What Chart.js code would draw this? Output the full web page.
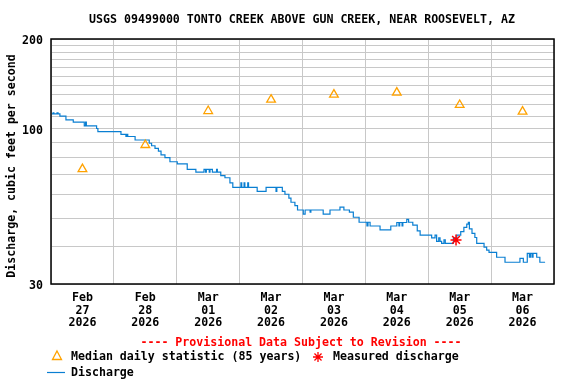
<!DOCTYPE html>
<html>
<head>
<meta charset="utf-8">
<script src="https://cdn.jsdelivr.net/npm/chart.js@4.4.1/dist/chart.umd.min.js"></script>
<style>
  html, body { margin: 0; padding: 0; background: #fff; }
  #wrap { width: 576px; height: 384px; }
</style>
</head>
<body>
<div id="wrap"><canvas id="hydro"></canvas></div>
<script>
// hours since Feb 27 2026 00:00, and discharge (cfs) from that time on
var qHours = [0.3, 0.8, 1.1, 2.3, 2.7, 3.4, 5.7, 8.5, 12.7, 13.2, 13.5, 17.4, 17.9, 26.7, 28.6, 29.0, 29.3, 32.1,
  37.5, 38.4, 39.7, 41.0, 42.0, 43.5, 45.4, 48.2, 52.0, 55.3, 58.4, 59.0, 59.3, 60.4, 60.7, 61.6, 63.2, 63.5,
  64.8, 66.4, 68.3, 69.4, 72.5, 72.8, 73.7, 74.0, 75.1, 75.4, 78.7, 82.1, 85.9, 86.2, 88.3, 89.3, 90.8, 91.6,
  93.1, 94.1, 96.3, 97.0, 98.9, 99.2, 103.9, 106.5, 110.3, 111.8, 113.9, 115.4, 117.6, 120.6, 121.0, 121.8,
  125.6, 129.7, 132.0, 132.8, 133.1, 134.0, 134.3, 135.8, 136.5, 138.1, 139.8, 140.9, 145.3, 146.6, 147.2,
  148.0, 148.5, 149.1, 150.0, 150.5, 153.6, 154.9, 156.4, 157.6, 158.7, 159.3, 159.7, 160.7, 161.8, 162.5,
  165.3, 166.3, 167.2, 170.1, 173.3, 179.0, 180.3, 181.8, 182.6, 183.0, 183.6, 184.0, 185.4, 186.6, 188.6];
var qValues = [112, 113, 112, 113, 112, 110, 107, 105, 102, 105, 102, 100, 97.6, 95.6, 94, 95.6, 94, 91.5,
  89.2, 87.5, 85.8, 84, 81.5, 79.8, 77.3, 76, 72.9, 71.3, 72.9, 71.3, 72.9, 71.3, 72.9, 71.3, 72.9, 71.3,
  69.4, 68.3, 65.6, 63.4, 65.6, 63.4, 65.6, 63.4, 65.6, 63.4, 61.5, 63.4, 61.5, 63.4, 61.5, 60.1, 58.3, 56.5,
  55, 53.2, 51.5, 53.2, 52.3, 53.2, 51.5, 53.2, 54.4, 53.2, 52.3, 50.3, 48.4, 47, 48.4, 47,
  45.6, 47, 48.3, 47, 48.3, 47, 48.3, 49.5, 48.4, 47.3, 45.3, 43.8, 42.9, 43.8, 41.7,
  42.9, 41.7, 41.1, 42.2, 41.1, 42.9, 43.8, 45, 46.5, 47.7, 48.4, 46, 44.4, 43, 41.1,
  39.9, 39, 38.3, 36.9, 35.5, 36.6, 35.5, 38, 36.9, 38, 36.9, 38, 36.9, 35.5, 35.5];

var medianHours = [12, 36, 60, 84, 108, 132, 156, 180];
var medianValues = [73, 88, 114.5, 125, 130, 132, 120, 114];

var measuredHours = [154.6];
var measuredValues = [42.2];

var tickMonths = ['Feb', 'Feb', 'Mar', 'Mar', 'Mar', 'Mar', 'Mar', 'Mar'];
var tickDays = ['27', '28', '01', '02', '03', '04', '05', '06'];
var tickYears = ['2026', '2026', '2026', '2026', '2026', '2026', '2026', '2026'];

var yGrid = [30, 40, 50, 60, 70, 80, 90, 100, 110, 120, 130, 140, 150, 160, 170, 180, 190, 200];
var yLabels = [30, 100, 200];

var FONT = '"DejaVu Sans Mono", monospace';
var BLUE = '#0a7fd2';
var ORANGE = '#ffa200';

function pts(xs, ys) {
  return xs.map(function (x, i) { return { x: x, y: ys[i] }; });
}

var decorations = {
  id: 'decorations',
  afterDatasetsDraw: function (chart) {
    var ctx = chart.ctx, a = chart.chartArea;
    ctx.save();
    ctx.strokeStyle = '#000';
    ctx.lineWidth = 1.5;
    ctx.strokeRect(a.left, a.top, a.right - a.left, a.bottom - a.top);
    ctx.restore();
  },
  afterDraw: function (chart) {
    var ctx = chart.ctx;
    ctx.save();
    ctx.font = 'bold 11.6px ' + FONT;
    ctx.textBaseline = 'middle';
    ctx.fillStyle = '#000';
    ctx.textAlign = 'center';
    ctx.fillText('USGS 09499000 TONTO CREEK ABOVE GUN CREEK, NEAR ROOSEVELT, AZ', 302, 20);

    // y axis title
    ctx.save();
    ctx.translate(12, 166);
    ctx.rotate(-Math.PI / 2);
    ctx.fillText('Discharge, cubic feet per second', 0, 0);
    ctx.restore();

    ctx.fillStyle = '#ff0000';
    ctx.fillText('---- Provisional Data Subject to Revision ----', 301, 343);

    ctx.textAlign = 'left';
    ctx.fillStyle = '#000';
    ctx.fillText('Median daily statistic (85 years)', 71, 357);
    ctx.fillText('Measured discharge', 333, 357);
    ctx.fillText('Discharge', 71, 373);

    // triangle
    ctx.strokeStyle = ORANGE;
    ctx.lineWidth = 1.3;
    ctx.beginPath();
    ctx.moveTo(57, 351);
    ctx.lineTo(61.5, 359.5);
    ctx.lineTo(52.5, 359.5);
    ctx.closePath();
    ctx.stroke();

    // asterisk
    ctx.strokeStyle = '#ff0000';
    ctx.lineWidth = 1.3;
    ctx.beginPath();
    for (var k = 0; k < 4; k++) {
      var ang = k * Math.PI / 4;
      ctx.moveTo(318 - 5 * Math.cos(ang), 357 - 5 * Math.sin(ang));
      ctx.lineTo(318 + 5 * Math.cos(ang), 357 + 5 * Math.sin(ang));
    }
    ctx.stroke();

    // line sample
    ctx.strokeStyle = BLUE;
    ctx.lineWidth = 1.2;
    ctx.beginPath();
    ctx.moveTo(47, 372.5);
    ctx.lineTo(65, 372.5);
    ctx.stroke();
    ctx.restore();
  }
};

new Chart(document.getElementById('hydro'), {
  type: 'scatter',
  data: {
    datasets: [
      {
        label: 'Measured discharge',
        data: pts(measuredHours, measuredValues),
        pointStyle: 'star',
        pointRadius: 5.5,
        borderColor: '#ff0000',
        backgroundColor: '#ff0000',
        pointBorderWidth: 1.5
      },
      {
        label: 'Median daily statistic (85 years)',
        data: pts(medianHours, medianValues),
        pointStyle: 'triangle',
        pointRadius: 5,
        borderColor: ORANGE,
        backgroundColor: 'rgba(0,0,0,0)',
        pointBorderWidth: 1.3
      },
      {
        label: 'Discharge',
        data: pts(qHours, qValues),
        showLine: true,
        stepped: true,
        borderColor: BLUE,
        borderWidth: 1.2,
        pointRadius: 0
      }
    ]
  },
  options: {
    responsive: true,
    maintainAspectRatio: false,
    animation: false,
    events: [],
    layout: { padding: { left: 0, top: 39, right: 22, bottom: 0 } },
    plugins: { legend: { display: false }, tooltip: { enabled: false }, title: { display: false } },
    scales: {
      x: {
        type: 'linear',
        position: 'bottom',
        min: 0,
        max: 192,
        afterBuildTicks: function (s) {
          s.ticks = [0, 24, 48, 72, 96, 120, 144, 168, 192].map(function (v) { return { value: v }; });
        },
        afterFit: function (s) { s.height = 0; },
        ticks: { display: false },
        grid: { color: '#c8c8c8', lineWidth: 1, drawTicks: false },
        border: { display: false }
      },
      xl: {
        type: 'linear',
        position: 'bottom',
        min: 0,
        max: 192,
        afterBuildTicks: function (s) {
          s.ticks = medianHours.map(function (v) { return { value: v }; });
        },
        afterFit: function (s) { s.height = 100; },
        grid: { display: false, drawTicks: false },
        border: { display: false },
        ticks: {
          autoSkip: false,
          maxRotation: 0,
          padding: 7,
          color: '#000',
          font: { family: FONT, size: 11.6, weight: 'bold', lineHeight: 1.12 },
          callback: function (v) {
            var i = medianHours.indexOf(v);
            return i < 0 ? '' : [tickMonths[i], tickDays[i], tickYears[i]];
          }
        }
      },
      y: {
        type: 'logarithmic',
        min: 30,
        max: 200,
        afterBuildTicks: function (s) {
          s.ticks = yGrid.map(function (v) { return { value: v }; });
        },
        afterFit: function (s) { s.width = 51; },
        grid: { color: '#c8c8c8', lineWidth: 1, drawTicks: false },
        border: { display: false },
        ticks: {
          autoSkip: false,
          padding: 8,
          labelOffset: 2,
          color: '#000',
          font: { family: FONT, size: 11.6, weight: 'bold' },
          callback: function (v) { return yLabels.indexOf(v) >= 0 ? String(v) : ''; }
        },
        title: { display: false }
      }
    }
  },
  plugins: [decorations]
});
</script>
</body>
</html>
